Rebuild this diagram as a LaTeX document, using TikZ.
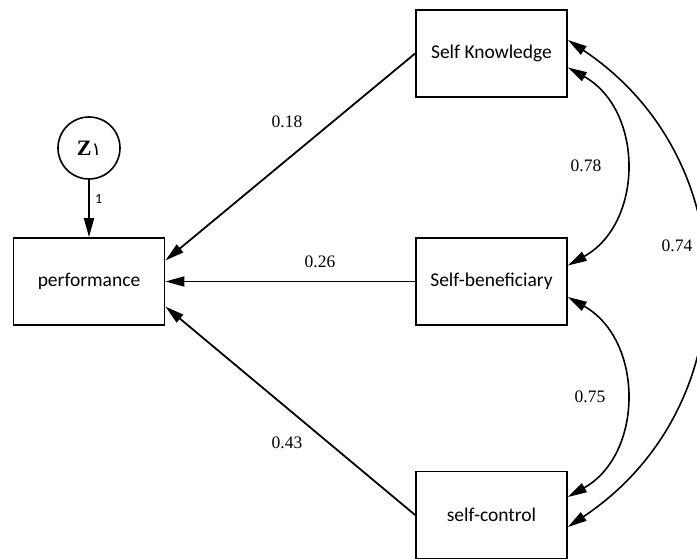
\documentclass[tikz,border=0pt]{standalone}
\usepackage{fontspec}
\setmainfont{Liberation Serif}
\newfontfamily\boxfont{Carlito}
\newfontfamily\zfont{Liberation Serif}
\newfontfamily\arabicfont[Script=Arabic]{DejaVu Sans}
\usetikzlibrary{arrows.meta}
\begin{document}
\begin{tikzpicture}[x=1pt,y=-1pt,
  varbox/.style={draw,line width=1.8pt,minimum width=151pt,minimum height=87pt,font=\boxfont\fontsize{19.5}{22}\selectfont,inner sep=0pt},
  errc/.style={draw,circle,line width=1.6pt,minimum size=62pt,inner sep=0pt},
  tip/.style={Triangle[length=19pt,width=10pt]},
  path/.style={line width=1.8pt,-{Triangle[length=19pt,width=10pt]}},
  cov/.style={line width=1.6pt,{Triangle[length=19pt,width=10pt]}-{Triangle[length=19pt,width=10pt]}},
  coef/.style={font=\fontsize{17.5}{20}\selectfont,inner sep=0pt}]
\clip (0,0) rectangle (697,559);
\fill[white] (0,0) rectangle (697,559);
\node[varbox] (perf) at (89,281.5) {performance};
\node[varbox] (sk) at (491.5,53.5) {Self Knowledge};
\node[varbox] (sb) at (491.5,281.5) {Self-beneficiary};
\node[varbox] (sc) at (491.5,515) {self-control};
\node[errc] (z) at (89,148) {\zfont\bfseries\fontsize{22}{24}\selectfont Z{\arabicfont\mdseries\fontsize{18}{20}\selectfont ١}};
\draw[path] (z) -- (perf) node[pos=0.33,right=2pt,font=\boxfont\fontsize{14}{16}\selectfont] (one) {1};
\draw[path] (sk.west) -- ([yshift=21pt]perf.east);
\draw[path] (sb.west) -- (perf.east);
\draw[path] (sc.west) -- ([yshift=-25pt]perf.east);
\draw[cov] ([yshift=-14pt]sk.east) .. controls (644,110) and (644,223) .. ([yshift=16pt]sb.east);
\draw[cov] ([yshift=-15.5pt]sb.east) .. controls (644,340) and (644,454) .. ([yshift=18pt]sc.east);
\draw[cov] ([yshift=13.5pt]sk.east) .. controls (748,160) and (748,407) .. ([yshift=-12pt]sc.east);
\node[coef] (l18) at (287,122) {0.18};
\node[coef] (l26) at (320,262) {0.26};
\node[coef] (l43) at (287,443) {0.43};
\node[coef] (l78) at (586,166) {0.78};
\node[coef] (l75) at (590,397) {0.75};
\node[coef] (l74) at (677,246) {0.74};
\end{tikzpicture}
\end{document}
